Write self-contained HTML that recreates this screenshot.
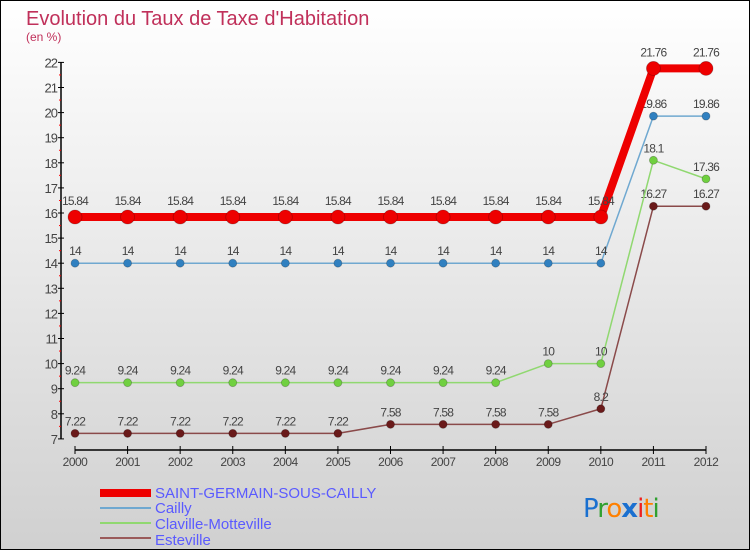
<!DOCTYPE html>
<html><head><meta charset="utf-8"><style>
body{margin:0}
#c{width:750px;height:550px;position:relative;overflow:hidden;font-family:"Liberation Sans",sans-serif}
</style></head><body>
<div id="c">
<svg id="s" width="750" height="550" xmlns="http://www.w3.org/2000/svg">
<defs><linearGradient id="bg" x1="0" y1="0" x2="0" y2="1"><stop offset="0" stop-color="#ffffff"/><stop offset="1" stop-color="#d0d0d0"/></linearGradient></defs>
<rect x="0.5" y="0.5" width="749" height="549" fill="url(#bg)" stroke="#000"/>
<text x="26" y="25" font-size="20" fill="#c0305a">Evolution du Taux de Taxe d'Habitation</text>
<text x="26" y="41" font-size="12" fill="#c0305a">(en %)</text>
<g id="axes"></g><g id="series"></g>
<g>
<rect x="100" y="489" width="51" height="8" fill="#ee0000"/>
<text x="155" y="498" font-size="15" fill="#5a5aff">SAINT-GERMAIN-SOUS-CAILLY</text>
<line x1="100" y1="508" x2="151" y2="508" stroke="#6fa8d0" stroke-width="2"/>
<text x="155" y="513" font-size="15" fill="#5a5aff">Cailly</text>
<line x1="100" y1="523" x2="151" y2="523" stroke="#90d870" stroke-width="2"/>
<text x="155" y="529" font-size="15" fill="#5a5aff">Claville-Motteville</text>
<line x1="100" y1="538" x2="151" y2="538" stroke="#9a5a5a" stroke-width="2"/>
<text x="155" y="545" font-size="15" fill="#5a5aff">Esteville</text>
</g>
<text x="583" y="517" font-size="26" font-family="'DejaVu Sans',sans-serif" letter-spacing="-1"><tspan fill="#1a70d0">P</tspan><tspan fill="#30a030">r</tspan><tspan fill="#ff8000">o</tspan><tspan fill="#1a70d0" font-weight="bold">x</tspan><tspan fill="#ee2020">i</tspan><tspan fill="#ff8000">t</tspan><tspan fill="#30a030">i</tspan></text>
</svg>
</div>
<script>
const years=[2000,2001,2002,2003,2004,2005,2006,2007,2008,2009,2010,2011,2012];
const saint=[15.84,15.84,15.84,15.84,15.84,15.84,15.84,15.84,15.84,15.84,15.84,21.76,21.76];
const cailly=[14,14,14,14,14,14,14,14,14,14,14,19.86,19.86];
const claville=[9.24,9.24,9.24,9.24,9.24,9.24,9.24,9.24,9.24,10,10,18.1,17.36];
const esteville=[7.22,7.22,7.22,7.22,7.22,7.22,7.58,7.58,7.58,7.58,8.2,16.27,16.27];
const yTicks=[7,8,9,10,11,12,13,14,15,16,17,18,19,20,21,22];
const NS="http://www.w3.org/2000/svg";
function X(i){return 75+i*(706-75)/(years.length-1);}
function Y(v){return 213-(v-16)*25.1;}
function mk(t,a,p){const e=document.createElementNS(NS,t);for(const k in a)e.setAttribute(k,a[k]);p.appendChild(e);return e;}
const ax=document.getElementById('axes');
let e=mk('line',{x1:61,y1:Y(22),x2:61,y2:Y(7),stroke:'#000','stroke-width':1.5},ax);


yTicks.forEach(v=>{
  mk('line',{x1:58,y1:Y(v),x2:64,y2:Y(v),stroke:'#000'},ax);
  if(v<22)mk('line',{x1:59,y1:Y(v+0.5),x2:61,y2:Y(v+0.5),stroke:'#f00'},ax);
  const t=mk('text',{x:57,y:Y(v)+5,'text-anchor':'end','font-size':13,fill:'#444','letter-spacing':'-1'},ax);
  t.textContent=v;
  
  
});
e=mk('line',{x1:X(0),y1:450,x2:X(years.length-1),y2:450,stroke:'#000','stroke-width':1.5},ax);


years.forEach((y,i)=>{
  mk('line',{x1:X(i),y1:446,x2:X(i),y2:454,stroke:'#000'},ax);
  const t=mk('text',{x:X(i),y:466,'text-anchor':'middle','font-size':12,fill:'#444','letter-spacing':'-0.5'},ax);
  t.textContent=y;
  
  
});
const sg=document.getElementById('series');
function draw(name,vals,col,lw,r,pcol,ldy){
  const g=mk('g',{},sg);
  
  
  const l=mk('polyline',{points:vals.map((v,i)=>X(i)+','+Y(v)).join(' '),fill:'none',stroke:col,'stroke-width':lw,'stroke-linejoin':'round'},g);
  
  
  vals.forEach((v,i)=>{
    const c=mk('circle',{cx:X(i),cy:Y(v),r:r,fill:pcol,stroke:'rgba(0,0,0,0.25)','stroke-width':0.8},g);
    
    
    const t=mk('text',{x:X(i),y:Y(v)-ldy,'text-anchor':'middle','font-size':12,fill:'#444','letter-spacing':'-0.8'},g);
    t.textContent=v;
    
    
  });
}
draw('esteville',esteville,'#8a4a4a',1.5,4,'#6a1a1a',8);
draw('claville',claville,'#90d870',1.5,4,'#70d040',8);
draw('cailly',cailly,'#6fa8d0',1.5,4,'#3080c0',8);
draw('saint-germain',saint,'#ee0000',8,7,'#ee0000',12);
</script>
</body></html>
